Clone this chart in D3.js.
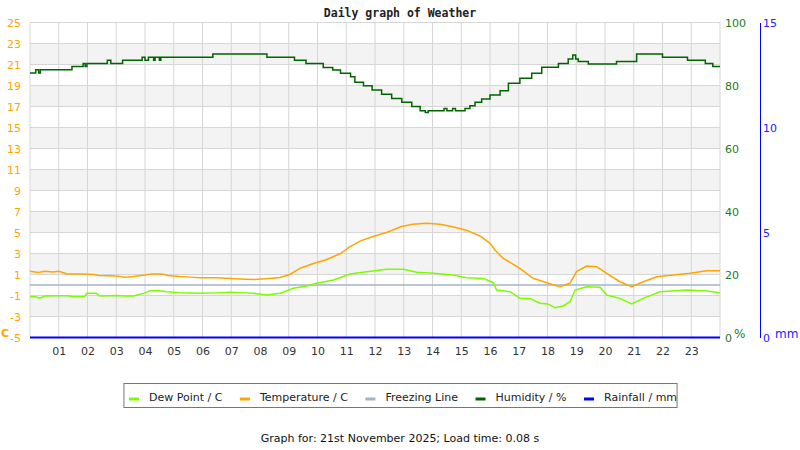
<!DOCTYPE html>
<html>
<head>
<meta charset="utf-8">
<title>Daily graph of Weather</title>
<script src="https://d3js.org/d3.v7.min.js"></script>
<style>
  body { margin: 0; background: #fff; }
  text { font-family: "DejaVu Sans", sans-serif; }
</style>
</head>
<body>
<div id="chart"></div>
<script>
// ticks
var hourTicks = d3.range(1, 24);
var tempTicks = d3.range(-5, 26, 2);
var humTicks = [0, 20, 40, 60, 80, 100];
var rainTicks = [0, 5, 10, 15];

// series as [hour, value]
var temperature = [
  [0,1.3],[0.3,1.2],[0.5,1.3],[0.8,1.25],[1.0,1.3],[1.3,1.05],[1.8,1.05],[2.2,1.0],[2.4,0.9],
  [3.0,0.85],[3.3,0.75],[3.6,0.8],[4.0,0.95],[4.2,1.05],[4.6,1.05],[4.8,0.9],[5.2,0.8],[5.6,0.75],
  [5.9,0.7],[6.5,0.68],[7.0,0.63],[7.5,0.55],[7.8,0.52],[8.2,0.6],[8.7,0.72],[9.04,1.0],[9.4,1.6],
  [9.86,2.05],[10.3,2.4],[10.8,3.0],[11.1,3.6],[11.5,4.2],[11.9,4.6],[12.4,5.0],[12.9,5.55],
  [13.3,5.78],[13.8,5.87],[14.26,5.78],[14.7,5.55],[15.2,5.2],[15.65,4.67],[16.0,3.97],[16.17,3.33],
  [16.46,2.54],[17.04,1.59],[17.5,0.64],[18.03,0.16],[18.43,-0.16],[18.78,0.16],[19.01,1.27],
  [19.36,1.81],[19.71,1.74],[20.06,1.11],[20.52,0.31],[20.93,-0.16],[21.33,0.31],[21.8,0.79],
  [22.38,0.95],[22.96,1.11],[23.54,1.36],[24,1.36]
];
var dewPoint = [
  [0,-1.15],[0.15,-1.1],[0.35,-1.25],[0.5,-1.05],[1.0,-1.02],[1.3,-1.02],[1.5,-1.12],[1.9,-1.1],
  [1.97,-0.79],[2.3,-0.79],[2.43,-1.05],[3.0,-1.0],[3.3,-1.05],[3.6,-1.05],[3.93,-0.8],[4.05,-0.7],
  [4.17,-0.54],[4.5,-0.55],[4.75,-0.64],[5.2,-0.73],[5.9,-0.79],[6.5,-0.75],[6.96,-0.7],[7.5,-0.75],
  [7.77,-0.79],[8.23,-0.95],[8.7,-0.79],[9.16,-0.31],[9.62,-0.1],[9.97,0.16],[10.55,0.48],
  [11.13,1.05],[11.71,1.27],[12.4,1.49],[12.99,1.49],[13.45,1.21],[14.03,1.11],[14.72,0.95],
  [15.19,0.7],[15.77,0.63],[16.11,0.22],[16.23,-0.48],[16.7,-0.64],[17.04,-1.27],[17.4,-1.3],
  [17.74,-1.74],[18.0,-1.8],[18.26,-2.16],[18.55,-2.0],[18.78,-1.59],[18.96,-0.48],[19.36,-0.16],
  [19.83,-0.22],[20.06,-0.95],[20.52,-1.27],[20.93,-1.81],[21.33,-1.27],[21.91,-0.64],[22.84,-0.48],
  [23.54,-0.57],[24,-0.73]
];
var humidity = [
  [0,84],[0.2,85],[0.3,84],[0.36,85],[1.46,86],[1.85,87],[1.92,86],[1.98,87],[2.69,88],[2.81,87],
  [3.22,88],[3.9,89],[4.0,88],[4.12,89],[4.3,88],[4.35,89],[4.5,88],[4.55,89],[6.36,90],[8.24,89],
  [9.2,88],[9.6,87],[10.2,85.7],[10.53,84.9],[10.8,83.9],[11.15,82.8],[11.3,81],[11.6,79.9],
  [11.9,78.6],[12.23,77.2],[12.58,75.9],[12.93,74.7],[13.28,73.3],[13.57,72],[13.75,71.4],
  [13.85,72],[14.4,72.7],[14.5,72],[14.7,72.7],[14.8,72],[15.13,72.7],[15.3,73.6],[15.48,74.7],
  [15.71,75.7],[16.0,77],[16.35,78.3],[16.64,80.7],[17.04,82.3],[17.45,83.9],[17.8,85.8],
  [18.38,87],[18.72,88.4],[18.88,89.7],[18.98,88.4],[19.07,87.6],[19.42,86.8],[20.4,87.6],
  [21.1,90],[22.0,89],[22.87,88],[23.49,87],[23.75,86],[24,86]
];
var rainfall = [[0,0],[24,0]];
var freezing = [[0,0],[24,0]];

var legendNames = ['Dew Point / C', 'Temperature / C', 'Freezing Line', 'Humidity / %', 'Rainfall / mm'];
var legendColors = ['#7cfc00', '#ffa500', '#a3b3cb', '#006400', '#0000ff'];

var w = 800, h = 450;
var margin = {top: 22.5, left: 30, right: 80, bottom: 112.5};
var innerW = w - margin.left - margin.right, innerH = h - margin.top - margin.bottom;

var svg = d3.select('#chart').append('svg')
  .attr('width', w).attr('height', h);

var x = d3.scaleLinear().domain([0, 24]).range([margin.left, margin.left + innerW]);
var yT = d3.scaleLinear().domain([-5, 25]).range([margin.top + innerH, margin.top]);
var yH = d3.scaleLinear().domain([0, 100]).range([margin.top + innerH, margin.top]);
var yR = d3.scaleLinear().domain([0, 15]).range([margin.top + innerH, margin.top]);

// alternating bands
svg.append('g').selectAll('rect')
  .data(d3.range(-5, 25, 2).filter(function(v, i) { return i % 2 == 1; }))
  .enter().append('rect')
  .attr('x', x(0)).attr('width', x(24) - x(0))
  .attr('y', function(d) { return yT(d + 2); })
  .attr('height', function(d) { return yT(d) - yT(d + 2); })
  .attr('fill', '#f3f3f3');

// grid
svg.append('g').selectAll('line')
  .data(tempTicks).enter().append('line')
  .attr('x1', x(0)).attr('x2', x(24))
  .attr('y1', function(d) { return yT(d); }).attr('y2', function(d) { return yT(d); })
  .attr('stroke', '#d6d6d6');
svg.append('g').selectAll('line')
  .data(d3.range(0, 25)).enter().append('line')
  .attr('y1', yT(-5)).attr('y2', yT(25))
  .attr('x1', function(d) { return x(d); }).attr('x2', function(d) { return x(d); })
  .attr('stroke', '#d6d6d6');

// axes (plain hyphen for negatives, like the original)
var left = svg.append('g').attr('transform', 'translate(' + x(0) + ',0)')
  .call(d3.axisLeft(yT).tickValues(tempTicks).tickSize(0).tickPadding(9)
    .tickFormat(function(d) { return String(d); }));
left.select('.domain').remove();
left.selectAll('text').attr('fill', '#ffa500').style('font-size', '11px').style('font-family', 'DejaVu Sans');

var right = svg.append('g').attr('transform', 'translate(' + x(24) + ',0)')
  .call(d3.axisRight(yH).tickValues(humTicks).tickSize(0).tickPadding(5));
right.select('.domain').remove();
right.selectAll('text').attr('fill', '#1f7a1f').style('font-size', '11px').style('font-family', 'DejaVu Sans');

var rain = svg.append('g').attr('transform', 'translate(760,0)')
  .call(d3.axisRight(yR).tickValues(rainTicks).tickSize(0).tickPadding(3));
rain.select('.domain').attr('stroke', '#0000ff').attr('stroke-width', 1);
rain.selectAll('text').attr('fill', '#2222ff').style('font-size', '11px').style('font-family', 'DejaVu Sans');

var bottom = svg.append('g').attr('transform', 'translate(0,' + yT(-5) + ')')
  .call(d3.axisBottom(x).tickValues(hourTicks).tickSize(0).tickPadding(10).tickFormat(d3.format('02d')));
bottom.select('.domain').remove();
bottom.selectAll('text').attr('fill', '#333').style('font-size', '11px').style('font-family', 'DejaVu Sans');

// unit labels
svg.append('text').attr('x', 1).attr('y', 337).text('C')
  .attr('fill', '#ffa500').style('font-size', '11px').style('font-weight', 'bold');
svg.append('text').attr('x', 734).attr('y', 338).text('%')
  .attr('fill', '#1f7a1f').style('font-size', '12px');
svg.append('text').attr('x', 775).attr('y', 338).text('mm')
  .attr('fill', '#2222ff').style('font-size', '12px');

// lines
var tLine = d3.line().x(function(d) { return x(d[0]); }).y(function(d) { return yT(d[1]); });
var hLine = d3.line().curve(d3.curveStepAfter).x(function(d) { return x(d[0]); }).y(function(d) { return yH(d[1]); });
var rLine = d3.line().x(function(d) { return x(d[0]); }).y(function(d) { return yR(d[1]); });

svg.append('path').datum(freezing).attr('d', tLine)
  .attr('fill', 'none').attr('stroke', '#a3b3cb').attr('stroke-width', 1.5);
svg.append('path').datum(dewPoint).attr('d', tLine)
  .attr('fill', 'none').attr('stroke', '#7cfc00').attr('stroke-width', 1.5);
svg.append('path').datum(temperature).attr('d', tLine)
  .attr('fill', 'none').attr('stroke', '#ffa500').attr('stroke-width', 1.5);
svg.append('path').datum(humidity).attr('d', hLine)
  .attr('fill', 'none').attr('stroke', '#006400').attr('stroke-width', 1.5);
svg.append('path').datum(rainfall).attr('d', rLine)
  .attr('fill', 'none').attr('stroke', '#0000ff').attr('stroke-width', 2);

// title
svg.append('text').attr('x', 400).attr('y', 17).attr('text-anchor', 'middle')
  .text('Daily graph of Weather')
  .style('font-family', 'DejaVu Sans Mono').style('font-weight', 'bold').style('font-size', '11.5px')
  .attr('fill', '#222');

// legend
var legend = svg.append('g');
var box = legend.append('rect').attr('y', 383.5).attr('height', 24)
  .attr('fill', '#fff').attr('stroke', '#777');
var gap = 17.5;
var lx = 0;
legendNames.forEach(function(name, i) {
  legend.append('line').attr('x1', lx).attr('x2', lx + 10).attr('y1', 399).attr('y2', 399)
    .attr('stroke', legendColors[i]).attr('stroke-width', 3);
  var t = legend.append('text').attr('x', lx + 20).attr('y', 401).text(name)
    .attr('fill', '#222').style('font-size', '11px');
  lx += 20 + t.node().getComputedTextLength() + gap;
});
var totalW = lx - gap + 4;
var startX = 400 - totalW / 2 + 5;
legend.selectAll('line, text').attr('transform', 'translate(' + startX + ',0)');
box.attr('x', startX - 5).attr('width', totalW + 1);

// footer
svg.append('text').attr('x', 400).attr('y', 442).attr('text-anchor', 'middle')
  .text('Graph for: 21st November 2025; Load time: 0.08 s')
  .attr('fill', '#111').style('font-size', '11px');
</script>
</body>
</html>
